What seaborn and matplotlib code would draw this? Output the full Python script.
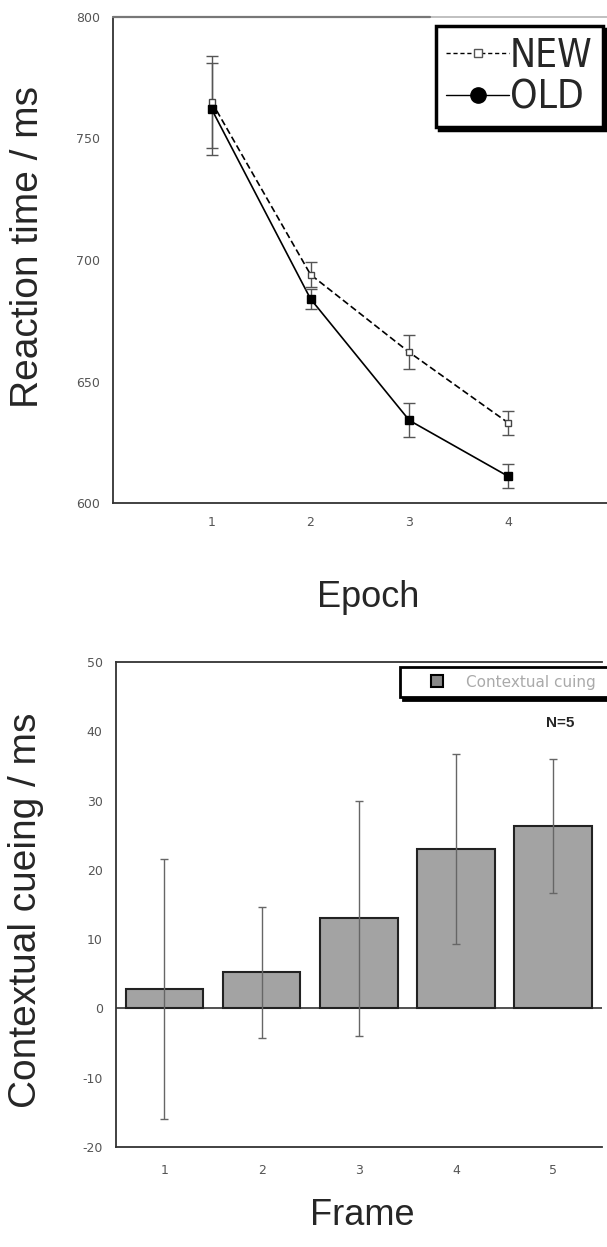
import numpy as np
import pandas as pd
import matplotlib
matplotlib.use("Agg")
import matplotlib.pyplot as plt
from matplotlib import font_manager
from matplotlib.lines import Line2D
import seaborn as sns

# data
epochs = [1, 2, 3, 4]
rt_new = [765, 694, 662, 633]
rt_new_err = [19, 5, 7, 5]
rt_old = [762, 684, 634, 611]
rt_old_err = [19, 4, 7, 5]

frames = ["1", "2", "3", "4", "5"]
cueing = [2.8, 5.2, 13.0, 23.0, 26.3]
cueing_err = [18.8, 9.5, 17.0, 13.7, 9.7]

sns.set_style("white")
plt.rcParams['font.family'] = ['DejaVu Sans']
plt.rcParams['axes.unicode_minus'] = False

installed = {f.name for f in font_manager.fontManager.ttflist}
narrow = [n for n in ["Liberation Sans Narrow", "DejaVu Sans Condensed"] if n in installed]
label_font = {"family": ["Liberation Sans", "DejaVu Sans"], "size": 26}
ylabel_font = {"family": ["Liberation Sans", "DejaVu Sans"], "size": 28}

fig = plt.figure(figsize=(6.07, 12.47), dpi=100)
ax1 = fig.add_axes([0.186, 0.5966, 0.814, 0.3898])
ax2 = fig.add_axes([0.191, 0.0802, 0.80, 0.3889])

# ---- top: reaction time ----
df = pd.DataFrame({
    "Epoch": epochs * 2,
    "RT": rt_new + rt_old,
    "cond": ["NEW"] * 4 + ["OLD"] * 4,
})
sns.lineplot(data=df, x="Epoch", y="RT", style="cond", ax=ax1, color="black",
             dashes={"NEW": (4, 2), "OLD": ""}, lw=1.2, legend=False)
ax1.errorbar(epochs, rt_new, yerr=rt_new_err, fmt="s", ms=5, mfc="white",
             mec="#444444", ecolor="#555555", elinewidth=1, capsize=4, zorder=3)
ax1.errorbar(epochs, rt_old, yerr=rt_old_err, fmt="s", ms=6, mfc="black",
             mec="black", ecolor="#555555", elinewidth=1, capsize=4, zorder=3)
ax1.set_xlim(0, 5)
ax1.set_ylim(600, 800)
ax1.set_xticks(epochs)
ax1.set_yticks([600, 650, 700, 750, 800])
ax1.set_xlabel("Epoch", fontdict=label_font)
ax1.set_ylabel("Reaction time / ms", fontdict=ylabel_font)
ax1.xaxis.set_label_coords(0.516, -0.158)
ax1.yaxis.set_label_coords(-0.136, 0.527)
ax1.spines["right"].set_visible(False)
for s in ["left", "bottom"]:
    ax1.spines[s].set_color("#333333")
    ax1.spines[s].set_linewidth(1.3)
ax1.spines["top"].set_color("#bbbbbb")
ax1.spines["top"].set_linewidth(1.3)
# darker left part of the top border, as in the original
ax1.axhline(800, xmin=0, xmax=0.642, color="#777777", lw=1.6, clip_on=False,
            zorder=4)
ax1.tick_params(direction="in", length=5, width=1, color="#333333",
                labelsize=9, labelcolor="#555555")
ax1.tick_params(axis="x", pad=9)
ax1.tick_params(axis="y", direction="out", length=6)

handles = [Line2D([], [], color="black", ls=(0, (3, 2)), lw=1, marker="s",
                  ms=6, mfc="white", mec="#555555"),
           Line2D([], [], color="black", ls="-", lw=1, marker="o",
                  ms=11, mfc="black", mec="black")]
if narrow:
    leg_prop = {"family": narrow[0], "size": 42}
else:
    leg_prop = {"family": "DejaVu Sans", "size": 28, "stretch": "condensed"}
leg = ax1.legend(handles, ["NEW", "OLD"], loc="upper right",
                 bbox_to_anchor=(0.992, 0.981), borderaxespad=0,
                 fancybox=False, framealpha=1,
                 edgecolor="black", handlelength=1.6, handletextpad=0.03,
                 borderpad=0.27, labelspacing=0.1, prop=leg_prop,
                 shadow={"color": "black", "alpha": 1})
leg.get_frame().set_linewidth(2.5)

# ---- bottom: contextual cueing ----
dfb = pd.DataFrame({"Frame": frames, "cue": cueing})
sns.barplot(data=dfb, x="Frame", y="cue", ax=ax2, color="#a3a3a3",
            edgecolor="#222222", linewidth=1.5, width=0.8, errorbar=None,
            saturation=1)
ax2.errorbar(range(len(frames)), cueing, yerr=cueing_err, fmt="none",
             ecolor="#666666", elinewidth=1, capsize=3)
ax2.axhline(0, color="#333333", lw=1.2, zorder=0)
ax2.set_xlim(-0.5, 4.5)
ax2.set_ylim(-20, 50)
ax2.set_yticks(range(-20, 51, 10))
ax2.set_xticks(range(5), frames)
ax2.set_xticks([0.5, 1.5, 2.5, 3.5], minor=True)
ax2.tick_params(axis="x", which="major", length=0, pad=12)
ax2.tick_params(axis="x", which="minor", direction="in", length=5,
                color="#333333")
ax2.tick_params(axis="y", direction="out", length=6, color="#333333")
ax2.tick_params(labelsize=9, labelcolor="#555555")
ax2.set_xlabel("Frame", fontdict=label_font)
ax2.set_ylabel("Contextual cueing / ms", fontdict=ylabel_font)
ax2.xaxis.set_label_coords(0.508, -0.105)
ax2.yaxis.set_label_coords(-0.148, 0.489)
ax2.spines["right"].set_visible(False)
for s in ["left", "bottom", "top"]:
    ax2.spines[s].set_color("#333333")
    ax2.spines[s].set_linewidth(1.3)
ax2.text(0.915, 0.874, "N=5", transform=ax2.transAxes, fontsize=11,
         family=["Liberation Sans", "DejaVu Sans"],
         fontweight="bold", ha="center", va="center")
cue_handle = Line2D([], [], ls="none", marker="s", ms=8, mfc="#888888",
                    mec="black", mew=1.5)
leg2 = ax2.legend([cue_handle], ["Contextual cuing"],
                  loc="upper left", bbox_to_anchor=(0.585, 0.92, 0.44, 0.07),
                  mode="expand", fancybox=False, framealpha=1,
                  edgecolor="black", handlelength=3.8, handletextpad=0.05,
                  borderpad=0.5, borderaxespad=0, fontsize=11,
                  labelcolor="#aaaaaa", shadow={"color": "black", "alpha": 1})
leg2.get_frame().set_linewidth(2)

fig.savefig("out.png", dpi=100)
